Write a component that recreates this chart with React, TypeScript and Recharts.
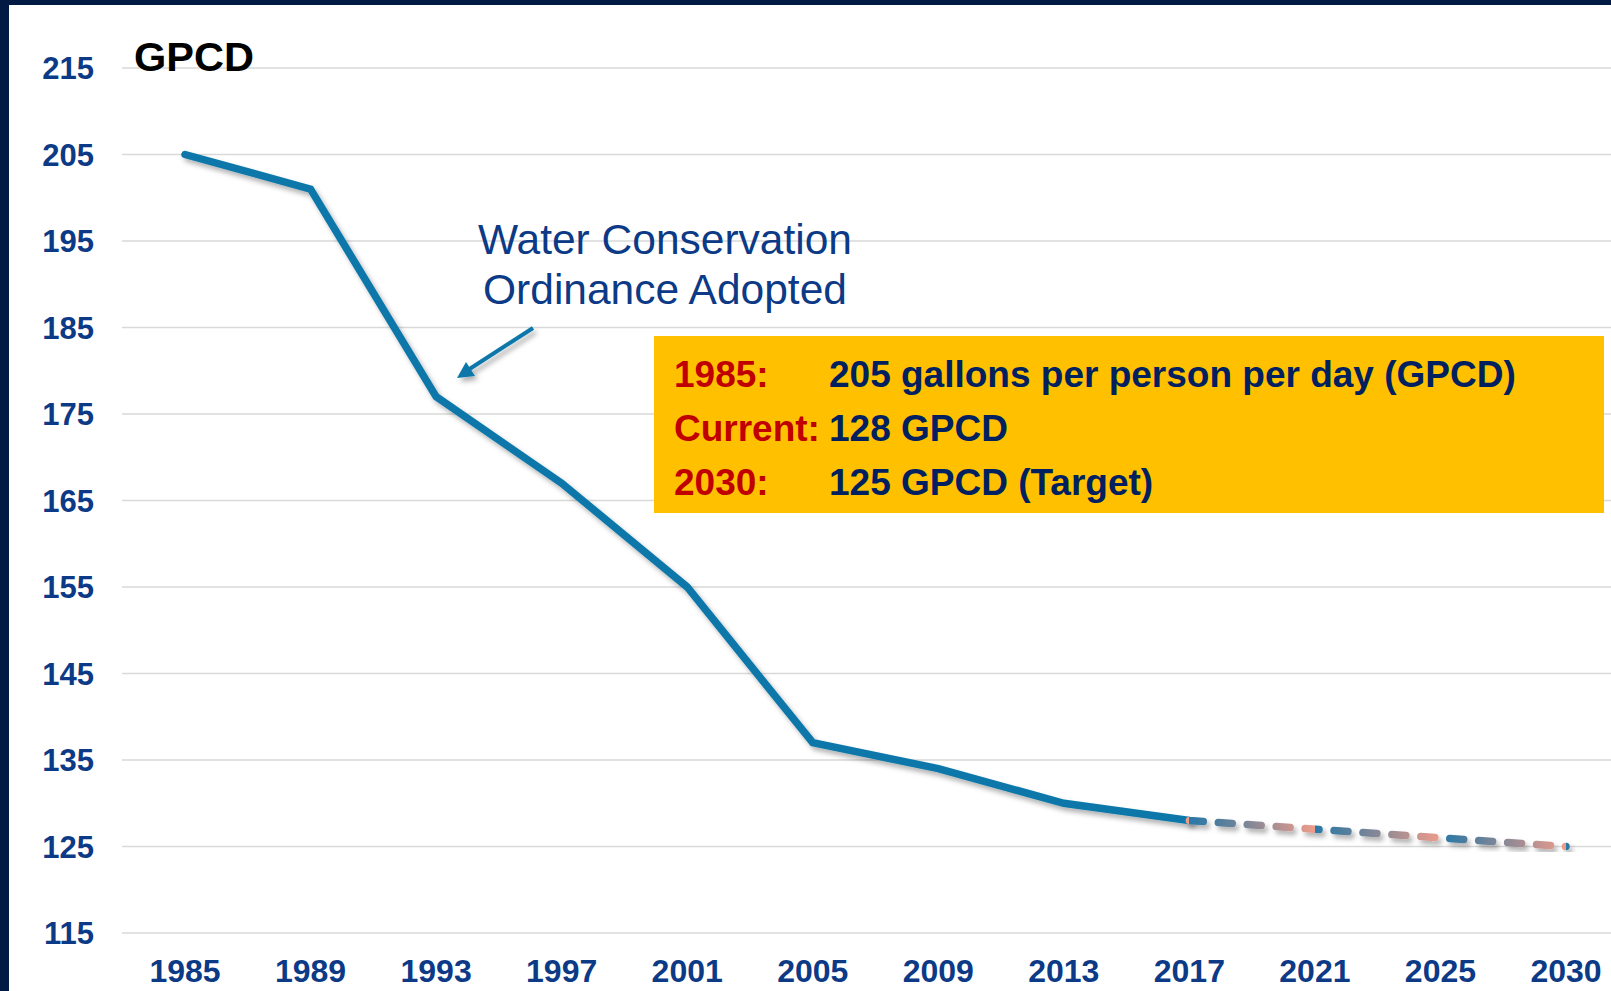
import { LineChart, Line, XAxis, YAxis, CartesianGrid } from "recharts";

const years = ["1985", "1989", "1993", "1997", "2001", "2005", "2009", "2013", "2017", "2021", "2025", "2030"];
const actualGpcd = [205, 201, 177, 167, 155, 137, 134, 130, 128, null, null, null];
const targetGpcd = [null, null, null, null, null, null, null, null, 128, 127, 126, 125];
const yTicks = [115, 125, 135, 145, 155, 165, 175, 185, 195, 205, 215];

const FONT = '"Liberation Sans", Arial, sans-serif';
const NAVY = "#0c3a86";
const LINE = "#0a77aa";

const data = years.map((year, i) => ({ year, actual: actualGpcd[i], target: targetGpcd[i] }));

function YTick({ x, y, payload }: any) {
  return (
    <text x={x - 28} y={y + 11} textAnchor="end" fontFamily={FONT} fontWeight="bold" fontSize={31} fill={NAVY}>
      {payload.value}
    </text>
  );
}

function XTick({ x, y, payload }: any) {
  return (
    <text x={x} y={y + 49} textAnchor="middle" fontFamily={FONT} fontWeight="bold" fontSize={32} fill={NAVY}>
      {payload.value}
    </text>
  );
}

export default function App() {
  return (
    <div
      style={{
        position: "absolute",
        left: 0,
        top: 0,
        width: 1611,
        height: 991,
        overflow: "hidden",
        background: "#001a44",
      }}
    >
      <style>{`.recharts-line-curve { filter: url(#lineShadow); }`}</style>
      <svg width={0} height={0} style={{ position: "absolute" }}>
        <defs>
          <filter id="lineShadow" x="-10%" y="-10%" width="120%" height="130%">
            <feDropShadow dx={3} dy={4} stdDeviation={2.5} floodColor="#000" floodOpacity={0.3} />
          </filter>
          <linearGradient id="projGrad" x1="0" y1="0" x2="0.3333" y2="0" spreadMethod="repeat">
            <stop offset="0" stopColor="#2a79a8" />
            <stop offset="0.2" stopColor="#4a7c9e" />
            <stop offset="1" stopColor="#ee9c8a" />
          </linearGradient>
        </defs>
      </svg>
      <div style={{ position: "absolute", left: 9, top: 5, right: 0, bottom: 0, background: "#fff" }} />
      <div style={{ position: "absolute", left: 0, top: 0 }}>
        <LineChart width={1640} height={991} data={data} margin={{ top: 68, right: 11, bottom: 0, left: 0 }}>
          <CartesianGrid horizontal vertical={false} stroke="#d9d9d9" strokeWidth={1.5} />
          <XAxis
            dataKey="year"
            height={58}
            padding={{ left: 63, right: 63 }}
            axisLine={false}
            tickLine={false}
            tickSize={0}
            tickMargin={0}
            interval={0}
            tick={<XTick />}
          />
          <YAxis
            width={122}
            domain={[115, 215]}
            ticks={yTicks}
            interval={0}
            axisLine={false}
            tickLine={false}
            tickSize={0}
            tickMargin={0}
            tick={<YTick />}
          />
          <Line
            dataKey="actual"
            stroke={LINE}
            strokeWidth={7.5}
            strokeLinecap="round"
            dot={false}
            activeDot={false}
            connectNulls={false}
            isAnimationActive={false}
          />
          <Line
            dataKey="target"
            stroke="url(#projGrad)"
            strokeWidth={7.5}
            strokeDasharray="14 15"
            strokeLinecap="round"
            dot={false}
            activeDot={false}
            isAnimationActive={false}
          />
        </LineChart>
      </div>
      <svg width={1611} height={991} style={{ position: "absolute", left: 0, top: 0, pointerEvents: "none" }}>
        <text x={134} y={71} fontFamily={FONT} fontWeight="bold" fontSize={41.5} fill="#000">
          GPCD
        </text>
        <text x={665} y={254} textAnchor="middle" fontFamily={FONT} fontSize={42.5} fill={NAVY}>
          Water Conservation
        </text>
        <text x={665} y={304} textAnchor="middle" fontFamily={FONT} fontSize={42.5} fill={NAVY}>
          Ordinance Adopted
        </text>
        <g filter="url(#lineShadow)">
          <line x1={533} y1={328} x2={468} y2={370} stroke={LINE} strokeWidth={4} />
          <polygon points="457,378 475,376 466,362" fill={LINE} />
        </g>
        <rect x={654} y={336} width={950} height={177} fill="#ffc000" />
        <g fontFamily={FONT} fontWeight="bold" fontSize={37}>
          <text x={674} y={387} fill="#c00000">1985:</text>
          <text x={829} y={387} fill="#002060">205 gallons per person per day (GPCD)</text>
          <text x={674} y={441} fill="#c00000">Current:</text>
          <text x={829} y={441} fill="#002060">128 GPCD</text>
          <text x={674} y={495} fill="#c00000">2030:</text>
          <text x={829} y={495} fill="#002060">125 GPCD (Target)</text>
        </g>
      </svg>
    </div>
  );
}
